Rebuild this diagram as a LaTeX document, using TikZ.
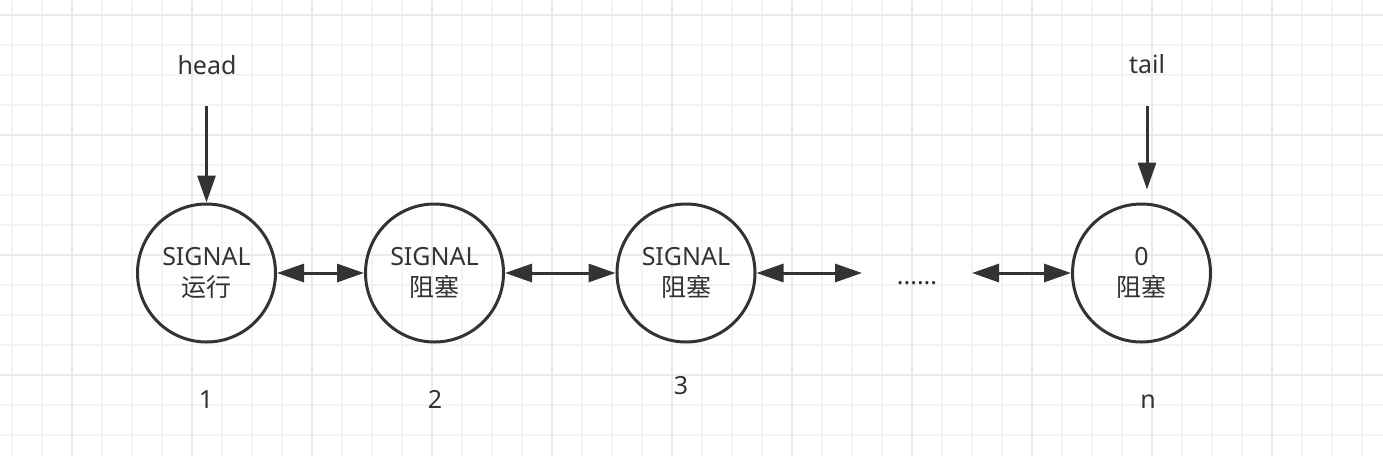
\documentclass[tikz,border=0pt]{standalone}
\usepackage{fontspec}
\setmainfont{Noto Sans}
\newfontfamily\cjk{Noto Sans CJK SC}
\usetikzlibrary{arrows.meta}
\definecolor{ink}{HTML}{333333}
\definecolor{gridminor}{HTML}{F3F3F3}
\definecolor{gridmajor}{HTML}{EAEAEA}
\tikzset{
  state/.style={circle,draw=ink,line width=3pt,minimum size=138pt,inner sep=0pt,
    align=center,text=ink,font=\fontsize{25}{33}\selectfont},
  lbl/.style={anchor=base,text=ink,inner sep=0pt,font=\fontsize{25}{30}\selectfont},
  link/.style={draw=ink,line width=3pt,{Triangle[length=27pt,width=18pt]}-{Triangle[length=27pt,width=18pt]}},
  ptr/.style={draw=ink,line width=3pt,-{Triangle[length=27pt,width=18pt]}},
}
\begin{document}
\begin{tikzpicture}[x=1pt,y=-1pt]
\useasboundingbox (0,0) rectangle (1383,456);
\fill[white] (0,0) rectangle (1383,456);
% grid
\foreach \k in {0,...,46}{
  \pgfmathsetmacro{\gx}{12+30*\k}
  \draw[gridminor,line width=1.6pt] (\gx,0) -- (\gx,456);
}
\foreach \k in {0,...,15}{
  \pgfmathsetmacro{\gy}{15+30*\k}
  \draw[gridminor,line width=1.6pt] (0,\gy) -- (1383,\gy);
}
\foreach \k in {0,...,11}{
  \pgfmathsetmacro{\gx}{72+120*\k}
  \draw[gridmajor,line width=1.6pt] (\gx,0) -- (\gx,456);
}
\foreach \k in {0,...,3}{
  \pgfmathsetmacro{\gy}{15+120*\k}
  \draw[gridmajor,line width=1.6pt] (0,\gy) -- (1383,\gy);
}
% states
\node[state] (c1) at (206.5,273) {SIGNAL\\[-2pt]{\cjk 运行}};
\node[state] (c2) at (434.5,273) {SIGNAL\\[-2pt]{\cjk 阻塞}};
\node[state] (c3) at (686,273) {SIGNAL\\[-2pt]{\cjk 阻塞}};
\node[state] (c4) at (1141.5,273) {0\\[-2pt]{\cjk 阻塞}};
\node[lbl] (dots) at (917,284) {......};
\coordinate (d1) at (862,273);
\coordinate (d2) at (972,273);
% links
\draw[link] (c1) -- (c2);
\draw[link] (c2) -- (c3);
\draw[link] (c3.east) -- (d1);
\draw[link] (d2) -- (c4.west);
% pointers
\node[lbl] (head) at (207,74) {head};
\node[lbl] (tail) at (1147,73) {tail};
\coordinate (hs) at (206.5,106);
\coordinate (ts) at (1147,106);
\coordinate (te) at (1147,189.5);
\draw[ptr] (hs) -- (c1.north);
\draw[ptr] (ts) -- (te);
% indices
\node[lbl] (n1) at (206,408) {1};
\node[lbl] (n2) at (435,408) {2};
\node[lbl] (n3) at (681,394) {3};
\node[lbl] (nn) at (1148,408) {n};
\end{tikzpicture}
\end{document}
